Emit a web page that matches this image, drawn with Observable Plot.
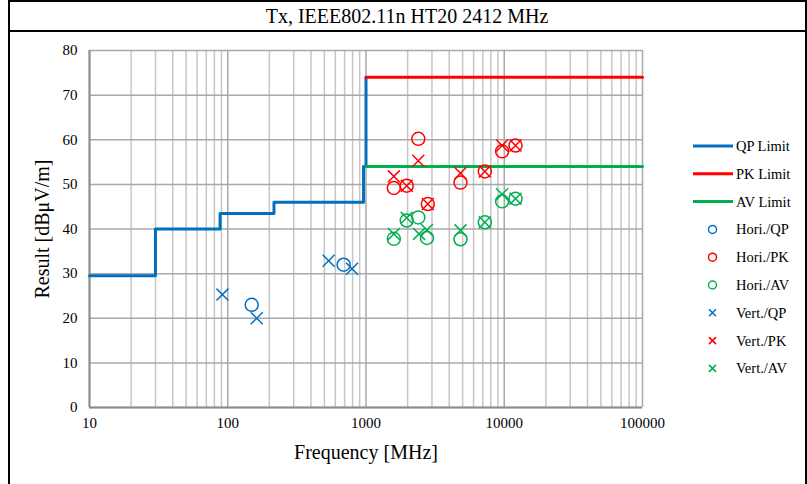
<!DOCTYPE html>
<html>
<head>
<meta charset="utf-8">
<script src="https://cdn.jsdelivr.net/npm/d3@7"></script>
<script src="https://cdn.jsdelivr.net/npm/@observablehq/plot@0.6"></script>
<style>
  html, body { margin: 0; padding: 0; background: #fff; }
  #wrap { position: relative; width: 807px; height: 484px; overflow: hidden; font-family: "Liberation Serif", "Times New Roman", serif; }
  #title { position: absolute; left: 10px; top: 2px; width: 794px; height: 28px; line-height: 28px; text-align: center; font-size: 20px; color: #000; }
  .bl { position: absolute; background: #000; }
  #wrap svg { position: absolute; left: 0; top: 0; }
</style>
</head>
<body>
<div id="wrap">
  <div id="title">Tx, IEEE802.11n HT20 2412 MHz</div>
</div>
<script>
// ---- data ----
const freqTicks = [10, 100, 1000, 10000, 100000];
const resultTicks = [0, 10, 20, 30, 40, 50, 60, 70, 80];

const qpLimitFreq = [10, 30, 30, 88, 88, 216, 216, 960, 960, 1000, 1000];
const qpLimitVal  = [29.5, 29.5, 40, 40, 43.5, 43.5, 46, 46, 54, 54, 74];
const pkLimitFreq = [1000, 100000];
const pkLimitVal  = [74, 74];
const avLimitFreq = [1000, 100000];
const avLimitVal  = [54, 54];

const horiQPFreq = [149, 689];
const horiQPVal  = [23.0, 32.0];
const horiPKFreq = [1590, 1970, 2390, 2800, 4824, 7236, 9648, 12060];
const horiPKVal  = [49.2, 49.7, 60.2, 45.6, 50.4, 52.9, 57.4, 58.7];
const horiAVFreq = [1590, 1970, 2390, 2760, 4824, 7236, 9648, 12060];
const horiAVVal  = [37.8, 41.9, 42.6, 38.0, 37.7, 41.5, 46.2, 46.8];
const vertQPFreq = [91.5, 162, 537, 792];
const vertQPVal  = [25.3, 20.0, 32.9, 31.1];
const vertPKFreq = [1590, 1970, 2390, 2800, 4824, 7236, 9648, 12060];
const vertPKVal  = [51.8, 49.7, 55.3, 45.6, 52.5, 52.9, 58.7, 58.7];
const vertAVFreq = [1590, 1970, 2420, 2760, 4824, 7236, 9648, 12060];
const vertAVVal  = [38.9, 42.5, 38.9, 39.8, 39.7, 41.5, 47.8, 46.8];

const BLUE = "#0070C0", RED = "#FF0000", GREEN = "#00B050";

// ---- build tables ----
const zip = (f, v) => f.map((x, i) => ({f: x, v: v[i]}));
const minorGrid = [];
for (let d = 10; d < 100000; d *= 10) for (let m = 2; m <= 9; m++) minorGrid.push(d * m);

const series = [
  {name: "Hori./QP", data: zip(horiQPFreq, horiQPVal), color: BLUE, symbol: "circle"},
  {name: "Hori./PK", data: zip(horiPKFreq, horiPKVal), color: RED, symbol: "circle"},
  {name: "Hori./AV", data: zip(horiAVFreq, horiAVVal), color: GREEN, symbol: "circle"},
  {name: "Vert./QP", data: zip(vertQPFreq, vertQPVal), color: BLUE, symbol: "times"},
  {name: "Vert./PK", data: zip(vertPKFreq, vertPKVal), color: RED, symbol: "times"},
  {name: "Vert./AV", data: zip(vertAVFreq, vertAVVal), color: GREEN, symbol: "times"}
];
const limits = [
  {name: "QP Limit", data: zip(qpLimitFreq, qpLimitVal), color: BLUE},
  {name: "PK Limit", data: zip(pkLimitFreq, pkLimitVal), color: RED},
  {name: "AV Limit", data: zip(avLimitFreq, avLimitVal), color: GREEN}
];

const plot = Plot.plot({
  width: 807,
  height: 484,
  marginLeft: 89,
  marginRight: 165,
  marginTop: 50,
  marginBottom: 77,
  style: {fontFamily: '"Liberation Serif", "Times New Roman", serif', fontSize: "15px", background: "transparent", color: "#000"},
  x: {type: "log", domain: [10, 100000]},
  y: {domain: [0, 80]},
  marks: [
    Plot.ruleX(minorGrid, {stroke: "#c6c6c6", strokeWidth: 1.5}),
    Plot.ruleX(freqTicks, {stroke: "#a8a8a8", strokeWidth: 1.5}),
    Plot.ruleY(resultTicks, {stroke: "#a8a8a8", strokeWidth: 1.5}),
    Plot.ruleX([10], {stroke: "#8c8c8c", strokeWidth: 2}),
    Plot.ruleY([0], {stroke: "#8c8c8c", strokeWidth: 2}),
    Plot.axisX({ticks: freqTicks, tickFormat: d => String(d), tickSize: 0, tickPadding: 10, fontSize: 15, label: null}),
    Plot.axisY({ticks: resultTicks, tickFormat: d => String(d), tickSize: 0, tickPadding: 12, fontSize: 15, label: null}),
    Plot.text(["Frequency [MHz]"], {frameAnchor: "bottom", dy: 45, fontSize: 20, lineAnchor: "middle", textAnchor: "middle"}),
    Plot.text(["Result [dBμV/m]"], {frameAnchor: "left", dx: -47, rotate: -90, fontSize: 20, textAnchor: "middle", lineAnchor: "middle"}),
    ...limits.map(l => Plot.line(l.data, {x: "f", y: "v", stroke: l.color, strokeWidth: 3, curve: "linear"})),
    ...series.map(s => Plot.dot(s.data, {x: "f", y: "v", symbol: s.symbol, r: s.symbol === "circle" ? 6.5 : 5.5, stroke: s.color, strokeWidth: 1.5, fill: "none"}))
  ]
});

// ---- legend ----
const svg = d3.select(plot);
const lg = svg.append("g")
  .attr("font-family", '"Liberation Serif", "Times New Roman", serif')
  .attr("font-size", 14.5)
  .attr("text-anchor", "start");
const rowY0 = 146, rowDY = 27.8;
const items = [
  ...limits.map(l => ({name: l.name, color: l.color, kind: "line"})),
  ...series.map(s => ({name: s.name, color: s.color, kind: s.symbol}))
];
items.forEach((it, i) => {
  const y = rowY0 + i * rowDY;
  if (it.kind === "line") {
    lg.append("line").attr("x1", 693).attr("x2", 733).attr("y1", y).attr("y2", y).attr("stroke", it.color).attr("stroke-width", 3);
  } else if (it.kind === "circle") {
    lg.append("circle").attr("cx", 712.5).attr("cy", y).attr("r", 4).attr("fill", "none").attr("stroke", it.color).attr("stroke-width", 1.5);
  } else {
    lg.append("path").attr("d", `M${712.5-3.5},${y-3.5}L${712.5+3.5},${y+3.5}M${712.5-3.5},${y+3.5}L${712.5+3.5},${y-3.5}`).attr("stroke", it.color).attr("stroke-width", 1.5);
  }
  lg.append("text").attr("x", 736).attr("y", y).attr("dy", "0.35em").attr("text-anchor", "start").attr("fill", "#000").text(it.name);
});

const wrap = document.getElementById("wrap");
wrap.insertBefore(plot, wrap.firstChild);

// ---- frame lines ----
[[8, 0, 799, 2], [8, 30, 799, 2], [8, 0, 2, 484], [805, 0, 2, 484]].forEach(([l, t, w, h]) => {
  const d = document.createElement("div");
  d.className = "bl";
  Object.assign(d.style, {left: l + "px", top: t + "px", width: w + "px", height: h + "px"});
  wrap.appendChild(d);
});
</script>
</body>
</html>
